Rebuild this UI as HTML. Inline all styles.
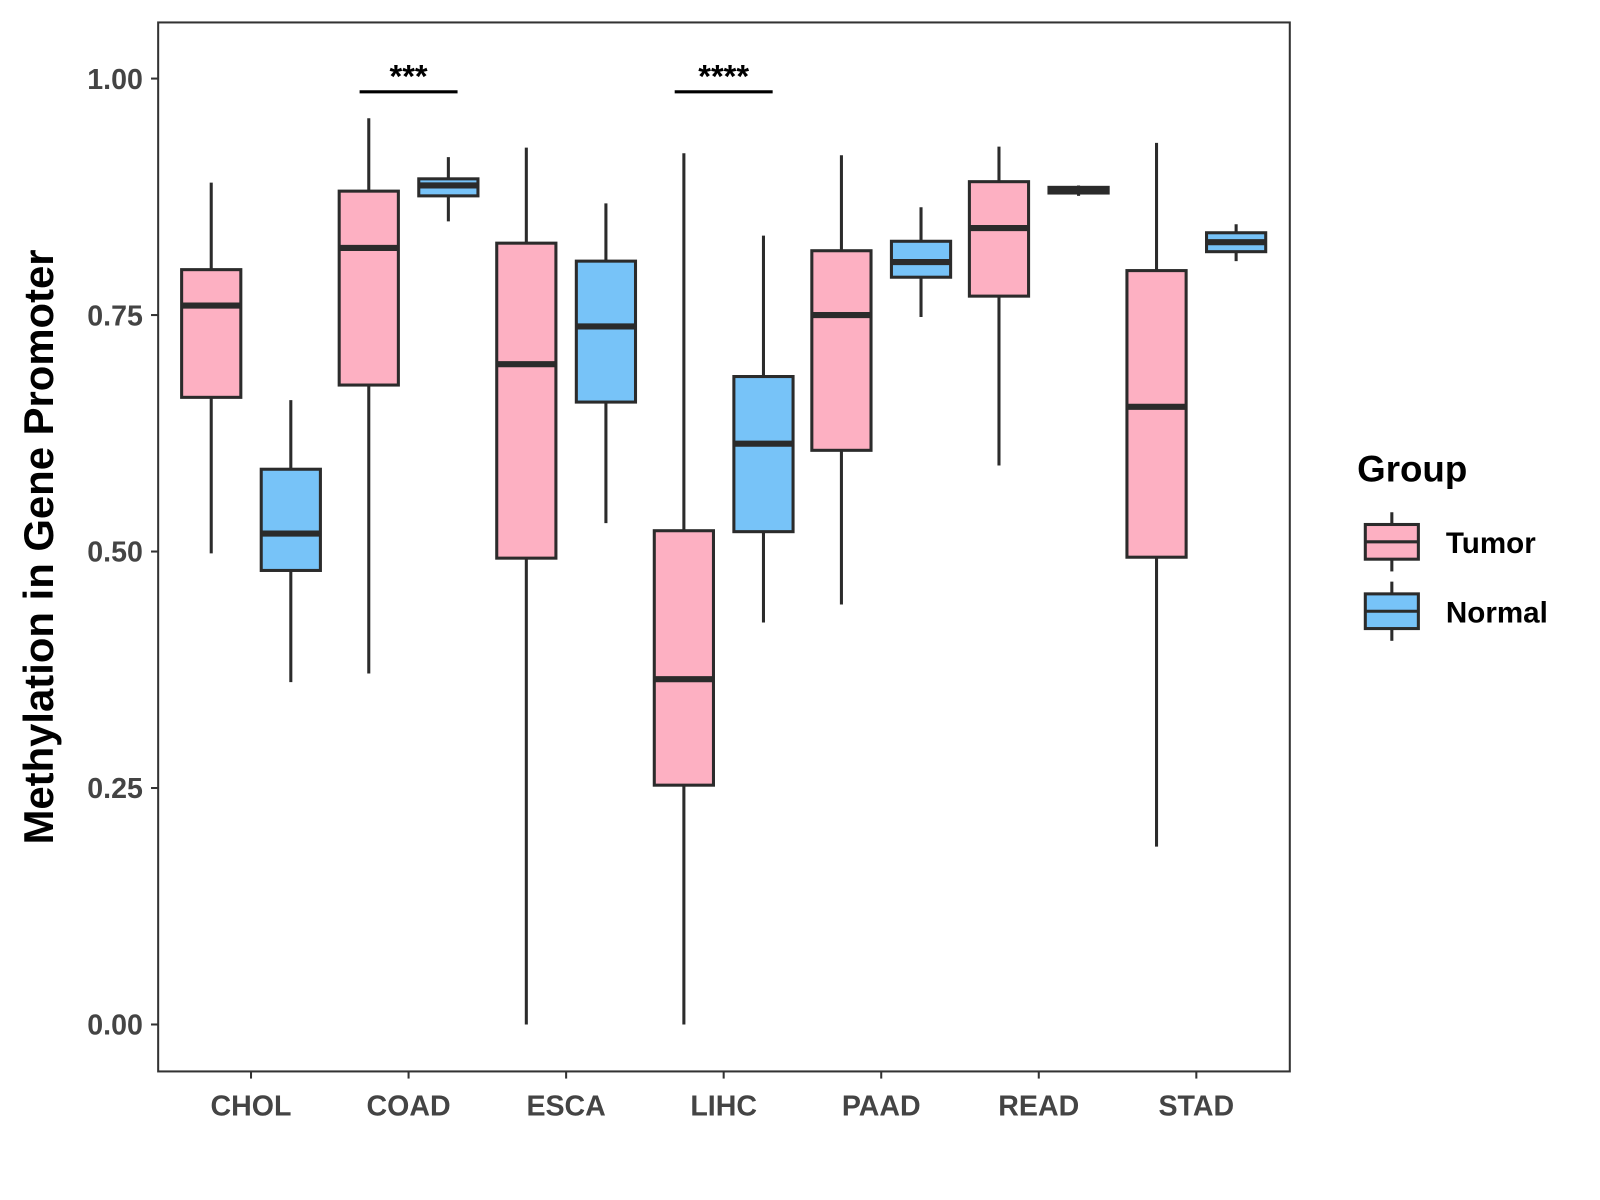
<!DOCTYPE html>
<html><head><meta charset="utf-8"><style>
html,body{margin:0;padding:0;background:#fff;width:1600px;height:1200px;overflow:hidden}
svg{display:block}
text{font-family:"Liberation Sans",Arial,sans-serif;font-weight:bold}
</style></head><body>
<svg id="chart" width="1600" height="1200" viewBox="0 0 1568 1176" xmlns="http://www.w3.org/2000/svg">
<rect x="155" y="22" width="1109" height="1028" fill="#fff" stroke="#333" stroke-width="2"/>
<g id="marks"></g>
<text x="0" y="0" transform="translate(52,536) rotate(-90)" text-anchor="middle" font-size="41" fill="#000">Methylation in Gene Promoter</text>
<text x="1330" y="472" font-size="36" fill="#000">Group</text>
<g>
<line x1="1364" y1="502" x2="1364" y2="560" stroke="#2b2b2b" stroke-width="3"/>
<rect x="1338" y="514" width="52" height="34" fill="#FDB0C2" stroke="#2b2b2b" stroke-width="3"/>
<line x1="1338" y1="531" x2="1390" y2="531" stroke="#2b2b2b" stroke-width="3"/>
<text x="1417" y="542" font-size="29" fill="#000">Tumor</text></g>
<g>
<line x1="1364" y1="570" x2="1364" y2="628" stroke="#2b2b2b" stroke-width="3"/>
<rect x="1338" y="582" width="52" height="34" fill="#77C3F8" stroke="#2b2b2b" stroke-width="3"/>
<line x1="1338" y1="599" x2="1390" y2="599" stroke="#2b2b2b" stroke-width="3"/>
<text x="1417" y="610" font-size="29" fill="#000">Normal</text></g>
</svg>
<script>
const categories=["CHOL","COAD","ESCA","LIHC","PAAD","READ","STAD"];
const tumorStats=[[0.498,0.663,0.76,0.798,0.89],[0.371,0.676,0.821,0.881,0.958],[0,0.493,0.698,0.826,0.927],[0,0.253,0.365,0.522,0.921],[0.444,0.607,0.75,0.818,0.919],[0.591,0.77,0.842,0.891,0.928],[0.188,0.494,0.653,0.797,0.932]];
const normalStats=[[0.362,0.48,0.519,0.587,0.66],[0.849,0.876,0.887,0.894,0.917],[0.53,0.658,0.738,0.807,0.868],[0.425,0.521,0.614,0.685,0.834],[0.748,0.79,0.806,0.828,0.864],[0.876,0.879,0.882,0.885,0.887],[0.807,0.817,0.827,0.837,0.846]];
const yTicks=[0,0.25,0.5,0.75,1.0];
const yTickLabels=["0.00","0.25","0.50","0.75","1.00"];
const sigCats=["COAD","LIHC"];
const sigLabels=["***","****"];
const sigY=[0.986,0.986];
const NS="http://www.w3.org/2000/svg";
const y=v=>1004-v*927;
const x=i=>246+i*154.4;
const g=document.getElementById('marks');
function el(t,a,p){const e=document.createElementNS(NS,t);for(const k in a)e.setAttribute(k,a[k]);(p||g).appendChild(e);return e;}
yTicks.forEach((t,i)=>{
 const tk=el('line',{x1:148,x2:155,y1:y(t),y2:y(t),stroke:'#333','stroke-width':2});
 
 
 const tx=el('text',{x:140,y:y(t)+10,'text-anchor':'end','font-size':28,fill:'#444'});
 tx.textContent=yTickLabels[i];
 
 
});
categories.forEach((c,i)=>{
 const tk=el('line',{x1:x(i),x2:x(i),y1:1050,y2:1057,stroke:'#333','stroke-width':2});
 
 
 const tx=el('text',{x:x(i),y:1093,'text-anchor':'middle','font-size':28,fill:'#444'});
 tx.textContent=c;
 
 
});
function box(cx,s,fill,name){
 const grp=el('g',{});
 
 
 el('line',{x1:cx,x2:cx,y1:y(s[0]),y2:y(s[4]),stroke:'#2b2b2b','stroke-width':3},grp);
 el('rect',{x:cx-29,width:58,y:y(s[3]),height:Math.max(y(s[1])-y(s[3]),1),fill:fill,stroke:'#2b2b2b','stroke-width':3},grp);
 el('line',{x1:cx-29,x2:cx+29,y1:y(s[2]),y2:y(s[2]),stroke:'#2b2b2b','stroke-width':6},grp);
}
categories.forEach((c,i)=>{
 box(x(i)-39,tumorStats[i],'#FDB0C2','box-tumor-'+c.toLowerCase());
 box(x(i)+39,normalStats[i],'#77C3F8','box-normal-'+c.toLowerCase());
});
sigCats.forEach((c,k)=>{
 const i=categories.indexOf(c);
 const ln=el('line',{x1:x(i)-48,x2:x(i)+48,y1:y(sigY[k]),y2:y(sigY[k]),stroke:'#000','stroke-width':3});
 
 
 const tx=el('text',{x:x(i),y:y(sigY[k])-4,'text-anchor':'middle','font-size':32,fill:'#000'});
 tx.textContent=sigLabels[k];
 
 
});
</script>
</body></html>
